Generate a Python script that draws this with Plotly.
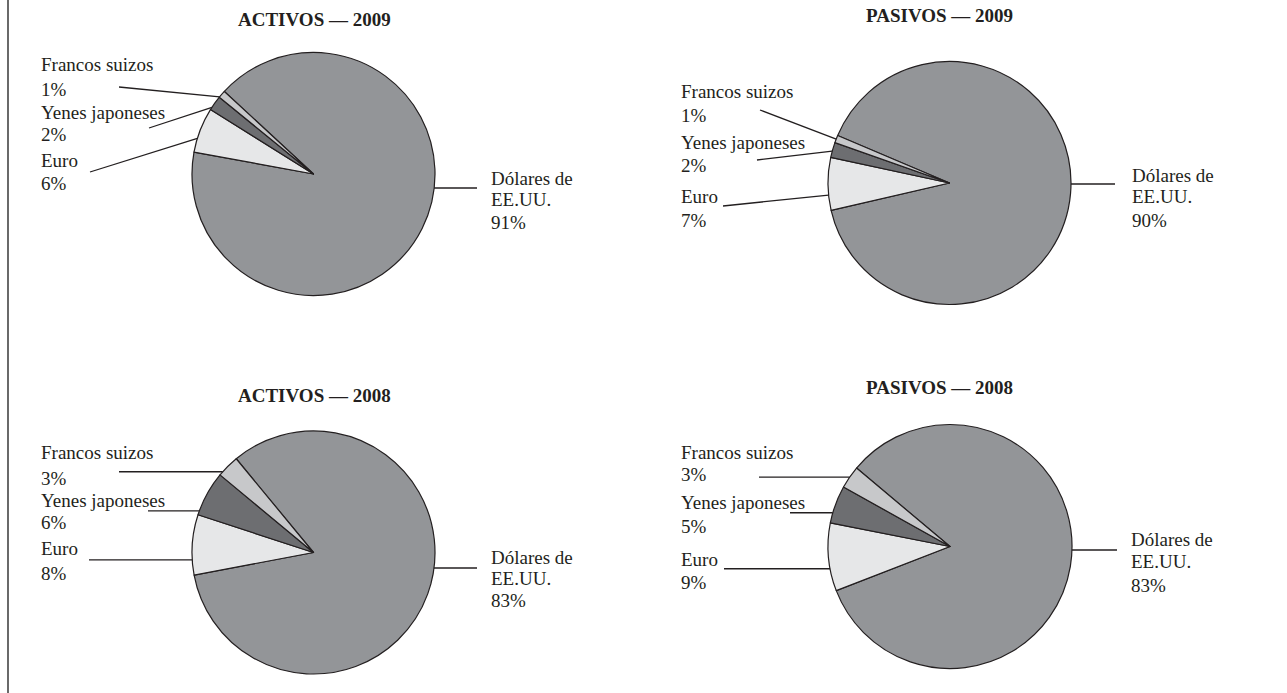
import math
import plotly.graph_objects as go

# ---------------- data ----------------
categories = ["Dólares de EE.UU.", "Euro", "Yenes japoneses", "Francos suizos"]
category_lines = [["Dólares de", "EE.UU."], ["Euro"], ["Yenes japoneses"], ["Francos suizos"]]
activos_2009 = [91, 6, 2, 1]
pasivos_2009 = [90, 7, 2, 1]
activos_2008 = [83, 8, 6, 3]
pasivos_2008 = [83, 9, 5, 3]
titles = ["ACTIVOS — 2009", "PASIVOS — 2009", "ACTIVOS — 2008", "PASIVOS — 2008"]
series = [activos_2009, pasivos_2009, activos_2008, pasivos_2008]

# ---------------- style / layout ----------------
W, H = 1287, 693
slice_colors = ["#939598", "#e6e7e8", "#6d6e71", "#c7c8ca"]
ink = "#231f20"
FONT = "Liberation Serif"
FS = 19
PAD = 2  # annotation box padding compensation

# per panel geometry (pixels)
panels = [
    dict(cx=313.5, cy=174, r=121.5, start=137.2, title=(314, 20),
         text_x=41, small_y=[[160, 183], [112, 135], [65, 89]],
         leader=[(90, 172), (149, 128), (119, 87)], frac=[0.69, 0.82, 0.94],
         dol_x=491, dol_y=[178, 200, 222], dol_line_y=188, dol_line_x1=477),
    dict(cx=949.5, cy=183, r=121.5, start=157, title=(939, 16),
         text_x=681, small_y=[[197, 220], [142, 165], [92, 115]],
         leader=[(723, 206), (757, 160), (760, 110)], frac=[0.71, 0.58, 0.5],
         dol_x=1132, dol_y=[175, 197, 220], dol_line_y=184, dol_line_x1=1115),
    dict(cx=313.5, cy=552.5, r=121.5, start=129.5, title=(314, 395),
         text_x=41, small_y=[[548, 573], [500, 522], [453, 478]],
         leader=[(89, None), (148, None), (119, None)], frac=[0.75, 0.91, 0.82],
         dol_x=491, dol_y=[557, 578, 600], dol_line_y=568, dol_line_x1=477),
    dict(cx=950, cy=546.5, r=122, start=140, title=(939, 387),
         text_x=681, small_y=[[559, 582], [502, 526], [453, 475]],
         leader=[(724, None), (790, None), (759, None)], frac=[0.67, 0.73, 0.5],
         dol_x=1131, dol_y=[539, 561, 585], dol_line_y=550, dol_line_x1=1117),
]


def px(x):
    return x / W


def py(y):
    return 1 - y / H


fig = go.Figure()
shapes = []
annotations = []


def text(x, y, s, bold=False, anchor="left"):
    if anchor == "left":
        x -= PAD
    annotations.append(dict(
        x=px(x), y=py(y), xref="paper", yref="paper", text=f"<b>{s}</b>" if bold else s,
        showarrow=False, xanchor=anchor, yanchor="middle",
        font=dict(family=FONT, size=FS, color=ink)))


def line(x0, y0, x1, y1):
    shapes.append(dict(type="line", xref="paper", yref="paper",
                       x0=px(x0), y0=py(y0), x1=px(x1), y1=py(y1),
                       line=dict(color=ink, width=1.3)))


for p, vals, title in zip(panels, series, titles):
    cx, cy, r = p["cx"], p["cy"], p["r"]
    fig.add_trace(go.Pie(
        labels=categories, values=vals, sort=False, direction="clockwise",
        rotation=90 - p["start"], textinfo="none", hoverinfo="label+percent",
        marker=dict(colors=slice_colors, line=dict(color=ink, width=1.2)),
        domain=dict(x=[px(cx - r), px(cx + r)], y=[py(cy + r), py(cy - r)]),
        showlegend=False))
    text(p["title"][0], p["title"][1], title, bold=True, anchor="center")

    total = sum(vals)
    cum = 0
    bounds = []
    for v in vals:
        a0 = p["start"] - 360 * cum / total
        cum += v
        a1 = p["start"] - 360 * cum / total
        bounds.append((a0, a1))

    # small slices: Euro, Yenes, Francos
    for k in range(1, 4):
        a0, a1 = bounds[k]
        a0 %= 360
        a1 %= 360
        if a0 < a1:
            a0 += 360
        th = math.radians(a1 + p["frac"][k - 1] * (a0 - a1))
        rx = cx + r * math.cos(th)
        ry = cy - r * math.sin(th)
        lx, ly = p["leader"][k - 1]
        if ly is None:
            ly = ry
        line(lx, ly, rx, ry)
        ys = p["small_y"][k - 1]
        text(p["text_x"], ys[0], category_lines[k][0])
        text(p["text_x"], ys[1], f"{vals[k]}%")

    # dollar slice label
    dy = p["dol_line_y"] - cy
    rim_x = cx + math.sqrt(max(r * r - dy * dy, 0))
    line(rim_x, p["dol_line_y"], p["dol_line_x1"], p["dol_line_y"])
    dl = category_lines[0] + [f"{vals[0]}%"]
    for s, yy in zip(dl, p["dol_y"]):
        text(p["dol_x"], yy, s)

# left border rule
shapes.append(dict(type="line", xref="paper", yref="paper", x0=px(8), x1=px(8), y0=0, y1=1,
                   line=dict(color="#444444", width=1.6)))

fig.update_layout(
    width=W, height=H, margin=dict(l=0, r=0, t=0, b=0),
    paper_bgcolor="white", plot_bgcolor="white",
    shapes=shapes, annotations=annotations, showlegend=False,
)
fig.write_html("out.html")
